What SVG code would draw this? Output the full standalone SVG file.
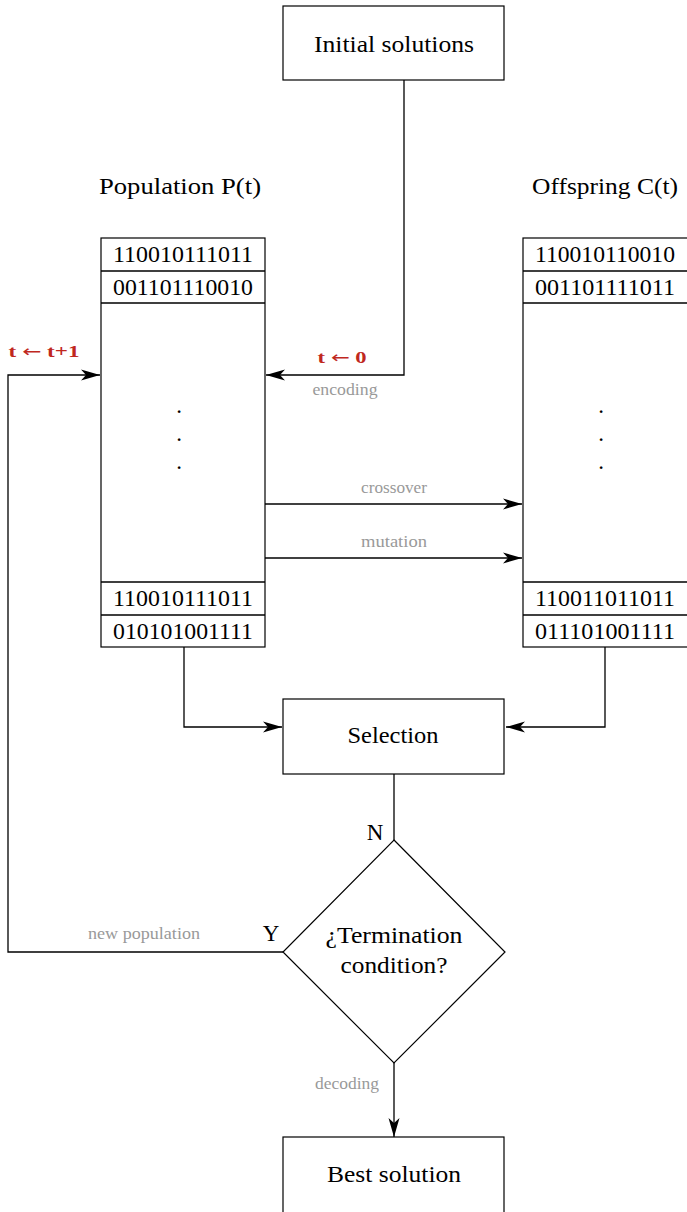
<svg xmlns="http://www.w3.org/2000/svg" width="687" height="1212" viewBox="0 0 687 1212">
<style>
.box{fill:#fff;stroke:#000;stroke-width:1.2}
.ln{fill:none;stroke:#000;stroke-width:1.3}
.t{font-family:"Liberation Serif","DejaVu Serif",serif;font-size:23px;fill:#000;text-anchor:middle}
.g{font-family:"Liberation Serif","DejaVu Serif",serif;font-size:16px;fill:#999;text-anchor:middle}
.r{font-family:"Liberation Serif","DejaVu Serif",serif;font-size:16px;font-weight:bold;fill:#c0281e;text-anchor:middle}
.ar{font-family:"DejaVu Sans",sans-serif;font-weight:normal}
</style>
<defs>
<marker id="ah" markerUnits="userSpaceOnUse" markerWidth="20" markerHeight="12" viewBox="0 0 20 12" refX="19" refY="6" orient="auto">
<path d="M0,0.5 L19,6 L0,11.5 L5,6 Z" fill="#000"/>
</marker>
</defs>
<rect width="687" height="1212" fill="#fff"/>

<g id="connectors">
<path class="ln" d="M404,80 V375 H266" marker-end="url(#ah)"/>
<path class="ln" d="M265,504 H522" marker-end="url(#ah)"/>
<path class="ln" d="M265,558 H522" marker-end="url(#ah)"/>
<path class="ln" d="M184,647 V727 H282" marker-end="url(#ah)"/>
<path class="ln" d="M605,647 V727 H506" marker-end="url(#ah)"/>
<path class="ln" d="M394,774 V840"/>
<path class="ln" d="M283,952 H8 V375 H100" marker-end="url(#ah)"/>
<path class="ln" d="M394,1063 V1137" marker-end="url(#ah)"/>
<text class="r" x="342" y="363" textLength="49" lengthAdjust="spacingAndGlyphs">t <tspan class="ar">←</tspan> 0</text>
<text class="g" x="345" y="395" textLength="65" lengthAdjust="spacingAndGlyphs">encoding</text>
<text class="r" x="44" y="357" textLength="71" lengthAdjust="spacingAndGlyphs">t <tspan class="ar">←</tspan> t+1</text>
<text class="g" x="394" y="493" textLength="66" lengthAdjust="spacingAndGlyphs">crossover</text>
<text class="g" x="394" y="547" textLength="66" lengthAdjust="spacingAndGlyphs">mutation</text>
<text class="t" x="375" y="840">N</text>
<text class="t" x="271" y="941">Y</text>
<text class="g" x="144" y="939" textLength="112" lengthAdjust="spacingAndGlyphs">new population</text>
<text class="g" x="347" y="1089" textLength="64" lengthAdjust="spacingAndGlyphs">decoding</text>
</g>

<g id="initial">
<rect class="box" x="283" y="6" width="221" height="74"/>
<text class="t" x="394" y="52" textLength="160" lengthAdjust="spacingAndGlyphs">Initial solutions</text>
</g>

<g id="population">
<text class="t" x="180" y="194" textLength="162" lengthAdjust="spacingAndGlyphs">Population P(t)</text>
<rect class="box" x="101" y="238" width="164" height="409"/>
<path class="ln" d="M101,271 H265 M101,303 H265 M101,582 H265 M101,615 H265"/>
<text class="t" x="183" y="262" textLength="140" lengthAdjust="spacingAndGlyphs">110010111011</text>
<text class="t" x="183" y="295" textLength="140" lengthAdjust="spacingAndGlyphs">001101110010</text>
<text class="t" x="179" y="413">.</text>
<text class="t" x="179" y="441">.</text>
<text class="t" x="179" y="469">.</text>
<text class="t" x="183" y="606" textLength="140" lengthAdjust="spacingAndGlyphs">110010111011</text>
<text class="t" x="183" y="639" textLength="140" lengthAdjust="spacingAndGlyphs">010101001111</text>
</g>

<g id="offspring">
<text class="t" x="605" y="194" textLength="146" lengthAdjust="spacingAndGlyphs">Offspring C(t)</text>
<rect class="box" x="523" y="238" width="166" height="409"/>
<path class="ln" d="M523,271 H687 M523,303 H687 M523,582 H687 M523,615 H687"/>
<text class="t" x="605" y="262" textLength="140" lengthAdjust="spacingAndGlyphs">110010110010</text>
<text class="t" x="605" y="295" textLength="140" lengthAdjust="spacingAndGlyphs">001101111011</text>
<text class="t" x="601" y="413">.</text>
<text class="t" x="601" y="441">.</text>
<text class="t" x="601" y="469">.</text>
<text class="t" x="605" y="606" textLength="140" lengthAdjust="spacingAndGlyphs">110011011011</text>
<text class="t" x="605" y="639" textLength="140" lengthAdjust="spacingAndGlyphs">011101001111</text>
</g>

<g id="selection">
<rect class="box" x="283" y="699" width="221" height="75"/>
<text class="t" x="393" y="743" textLength="91" lengthAdjust="spacingAndGlyphs">Selection</text>
</g>

<g id="termination">
<path class="box" d="M394,840 L505,952 L394,1063 L283,952 Z"/>
<text class="t" x="394" y="943" textLength="137" lengthAdjust="spacingAndGlyphs">¿Termination</text>
<text class="t" x="394" y="973" textLength="107" lengthAdjust="spacingAndGlyphs">condition?</text>
</g>

<g id="best">
<rect class="box" x="283" y="1137" width="221" height="80"/>
<text class="t" x="394" y="1182" textLength="134" lengthAdjust="spacingAndGlyphs">Best solution</text>
</g>
</svg>
